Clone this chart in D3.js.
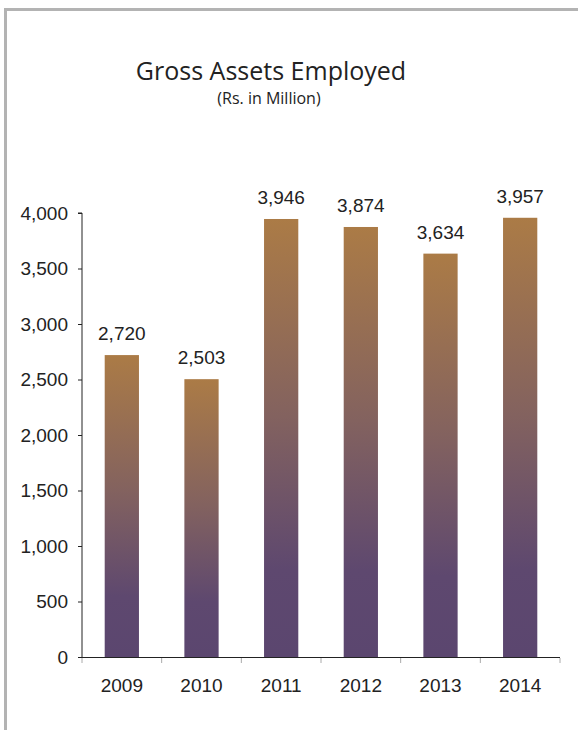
<!DOCTYPE html>
<html>
<head>
<meta charset="utf-8">
<script src="https://cdn.jsdelivr.net/npm/d3@7"></script>
<style>
  html, body { margin: 0; padding: 0; background: #fff; }
  svg { display: block; }
</style>
</head>
<body>
<svg id="chart" width="578" height="730"></svg>
<script>
const years = ["2009", "2010", "2011", "2012", "2013", "2014"];
const values = [2720, 2503, 3946, 3874, 3634, 3957];
const yTicks = [0, 500, 1000, 1500, 2000, 2500, 3000, 3500, 4000];

const svg = d3.select("#chart");
const W = 578, H = 730;
const margin = { left: 82, right: 18, top: 213, bottom: 73 };

// frame
svg.append("path")
  .attr("d", `M5.5,${H + 5} L5.5,9.5 L${W + 5},9.5`)
  .attr("fill", "none")
  .attr("stroke", "#b3b3b3")
  .attr("stroke-width", 3);

// title
svg.append("text")
  .attr("x", 271).attr("y", 80)
  .attr("text-anchor", "middle")
  .attr("font-family", "'Open Sans', 'Noto Sans', sans-serif")
  .attr("font-size", 25)
  .attr("fill", "#222")
  .text("Gross Assets Employed");
svg.append("text")
  .attr("x", 269).attr("y", 104)
  .attr("text-anchor", "middle")
  .attr("font-family", "'Open Sans', 'Noto Sans', sans-serif")
  .attr("font-size", 16)
  .attr("fill", "#222")
  .text("(Rs. in Million)");

const x = d3.scaleBand()
  .domain(years)
  .range([margin.left, W - margin.right])
  .paddingInner(0.57)
  .paddingOuter(0.285);

const y = d3.scaleLinear()
  .domain([0, 4000])
  .range([H - margin.bottom, margin.top]);

const defs = svg.append("defs");
const grad = defs.append("linearGradient")
  .attr("id", "barGrad")
  .attr("x1", 0).attr("y1", 0).attr("x2", 0).attr("y2", 1);
[[0, "#ab7b46"], [0.45, "#83625f"], [0.8, "#5e486f"], [1, "#5b466f"]].forEach(([o, c]) => {
  grad.append("stop").attr("offset", o).attr("stop-color", c);
});

const fontNum = "'Liberation Sans', Arial, sans-serif";
const fs = 19;

// bars
svg.append("g").selectAll("rect")
  .data(years)
  .join("rect")
  .attr("x", d => x(d))
  .attr("width", x.bandwidth())
  .attr("y", (d, i) => y(values[i]))
  .attr("height", (d, i) => y(0) - y(values[i]))
  .attr("fill", "url(#barGrad)");

// value labels
svg.append("g").selectAll("text")
  .data(years)
  .join("text")
  .attr("x", d => x(d) + x.bandwidth() / 2)
  .attr("y", (d, i) => y(values[i]) - 15)
  .attr("text-anchor", "middle")
  .attr("font-family", fontNum)
  .attr("font-size", fs)
  .attr("fill", "#222")
  .text((d, i) => d3.format(",")(values[i]));

// y axis
const yAxis = svg.append("g")
  .attr("transform", `translate(${margin.left},0)`)
  .call(d3.axisLeft(y).tickValues(yTicks).tickFormat(d3.format(",")).tickSize(4).tickPadding(10));
yAxis.select(".domain").attr("stroke", "#222").attr("d", `M-4,${y(4000)}H0V${y(0)}`);
yAxis.selectAll(".tick line").attr("stroke", "#222");
yAxis.selectAll(".tick text")
  .attr("font-family", fontNum)
  .attr("font-size", fs)
  .attr("fill", "#222");

// x axis
const xAxis = svg.append("g")
  .attr("transform", `translate(0,${y(0)})`)
  .call(d3.axisBottom(x).tickSize(0).tickPadding(22));
xAxis.select(".domain").attr("stroke", "#222").attr("d", `M${margin.left},0.5H${W - margin.right}`);
xAxis.selectAll(".tick text")
  .attr("font-family", fontNum)
  .attr("font-size", fs)
  .attr("fill", "#222");

// category separator ticks
const bounds = years.map(d => x(d) - x.step() * x.paddingInner() / 2).concat([W - margin.right]);
xAxis.append("g").selectAll("line")
  .data(bounds)
  .join("line")
  .attr("x1", d => d).attr("x2", d => d)
  .attr("y1", 1).attr("y2", 6)
  .attr("stroke", "#aaa");
</script>
</body>
</html>
